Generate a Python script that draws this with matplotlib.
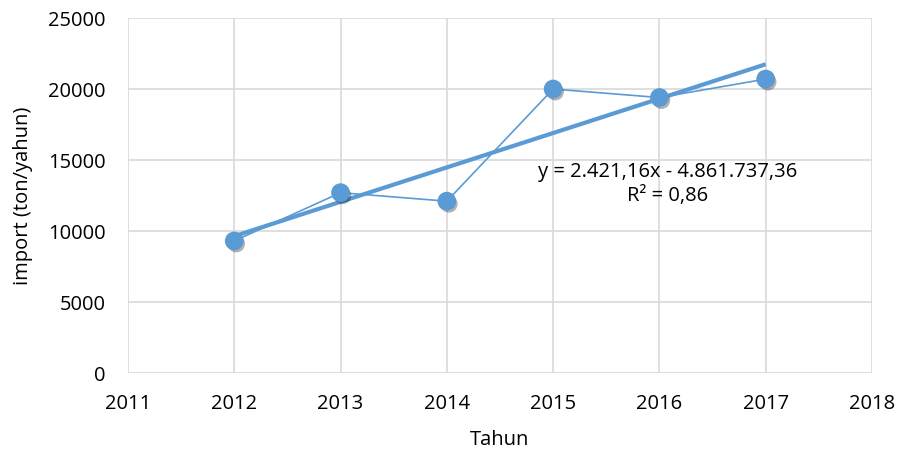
import numpy as np
import matplotlib
matplotlib.use("Agg")
import matplotlib.pyplot as plt
import matplotlib.patheffects as pe

# data
years = [2012, 2013, 2014, 2015, 2016, 2017]
imports = [9300, 12700, 12100, 20000, 19400, 20700]
# linear trendline as printed on the chart
slope = 2421.16
intercept = -4861737.36
trend_label = "y = 2.421,16x - 4.861.737,36\nR² = 0,86"

xticks = list(range(2011, 2019))
yticks = [0, 5000, 10000, 15000, 20000, 25000]

blue = "#5b9bd5"
grid_col = "#d9d9d9"

plt.rcParams['font.family'] = ['Open Sans', 'DejaVu Sans']

fig = plt.figure(figsize=(9.07, 4.55), dpi=100)
ax = fig.add_axes([0.1411, 0.1802, 0.8203, 0.7802])

shadow = [pe.SimplePatchShadow(offset=(1.5, -2), alpha=0.3, shadow_rgbFace="black"), pe.Normal()]

# data line
ax.plot(years, imports, color=blue, lw=1.2, zorder=3)
ax.plot(years, imports, ls="none", marker="o", ms=12.5, color=blue,
        markeredgecolor=blue, zorder=5, path_effects=shadow)

# trendline
tx = np.array([years[0], years[-1]])
ax.plot(tx, slope * tx + intercept, color=blue, lw=3, solid_capstyle="butt", zorder=4)

ax.text(2016.08, 13300, trend_label, ha="center", va="center", fontsize=14.5,
        linespacing=1.3, color="#000000", zorder=6)

ax.set_xlim(2011, 2018)
ax.set_ylim(0, 25000)
ax.set_xticks(xticks)
ax.set_yticks(yticks)
ax.grid(True, color=grid_col, lw=1.2)
ax.set_axisbelow(True)
for s in ax.spines.values():
    s.set_visible(False)
ax.tick_params(length=0, labelsize=14.5)
ax.tick_params(axis="y", pad=16)
ax.tick_params(axis="x", pad=15)

ax.set_xlabel("Tahun", fontsize=14.5, va="center")
ax.set_ylabel("import (ton/yahun)", fontsize=14.5, va="center")
ax.xaxis.set_label_coords(0.5, -0.189)
ax.yaxis.set_label_coords(-0.141, 0.5)

fig.savefig("out.png", dpi=100)
